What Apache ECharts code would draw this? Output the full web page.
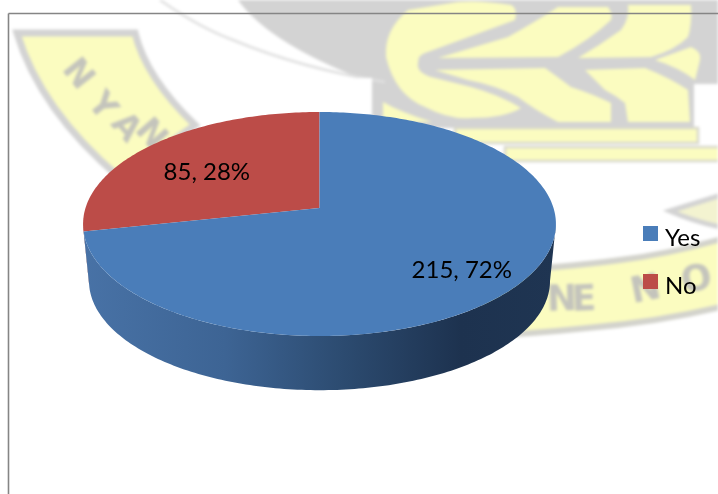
<!DOCTYPE html>
<html>
<head>
<meta charset="utf-8">
<title>Responses</title>
<style>
  html, body { margin: 0; padding: 0; background: #fff; overflow: hidden; }
  #crest, #chart { position: absolute; left: 0; top: 0; width: 718px; height: 494px; }
  #crest { filter: blur(1.8px); }
</style>
<script src="https://cdn.jsdelivr.net/npm/echarts@6/dist/echarts.min.js"></script>
</head>
<body>
<div id="crest"></div>
<div id="chart"></div>
<script>
// Survey responses
const categories = ['Yes', 'No'];
const responses = [215, 85];
const sliceColors = ['#4a7db9', '#bc4c48'];

const total = responses.reduce((a, b) => a + b, 0);

// Perspective of the tilted disc: a unit circle is projected on screen with the
// near edge enlarged, so the hub sits above the centre of the visible ellipse.
const DISC = { cx: 319.5, R: 234, c: -1 / 7, a: 80, b: 208, midY: 224 };
const RIM = { scale: 0.975, midY: 281 };

function project(theta, r) {
  const x = r * Math.sin(theta);
  const y = -r * Math.cos(theta);
  const w = 1 + DISC.c * y;
  return [DISC.cx + DISC.R * x / w, (DISC.a * y + DISC.b) / w];
}
function lower(p) {
  return [DISC.cx + (p[0] - DISC.cx) * RIM.scale, RIM.midY + (p[1] - DISC.midY) * RIM.scale];
}
function arcPoints(from, to) {
  const pts = [];
  const n = Math.max(8, Math.ceil((to - from) * 60));
  for (let i = 0; i <= n; i++) pts.push(project(from + (to - from) * i / n, 1));
  return pts;
}

// The wall is only seen between the widest points of the disc, on its near side.
function widestAngles() {
  let right = 0, left = 0, maxX = -Infinity, minX = Infinity;
  for (let i = 0; i < 1440; i++) {
    const t = i / 1440 * 2 * Math.PI;
    const x = project(t, 1)[0];
    if (x > maxX) { maxX = x; right = t; }
    if (x < minX) { minX = x; left = t; }
  }
  return { right, left };
}
const widest = widestAngles();

const wallFill = [
  new echarts.graphic.LinearGradient(0, 0, 1, 0, [
    { offset: 0, color: '#4872a6' },
    { offset: 0.3, color: '#3d6494' },
    { offset: 0.55, color: '#2c4b70' },
    { offset: 0.8, color: '#1d324f' },
    { offset: 1, color: '#1f3552' }
  ]),
  '#7a2f2d'
];
const labelPlacement = [{ reach: 0.75, dx: -4, dy: 7 }, { reach: 0.65, dx: -1, dy: 7 }];

function renderSlice(index) {
  return function (params, api) {
    const value = api.value(0);
    const before = responses.slice(0, index).reduce((a, b) => a + b, 0);
    const from = before / total * 2 * Math.PI;
    const to = (before + value) / total * 2 * Math.PI;
    const rim = arcPoints(from, to);
    const mid = (from + to) / 2;
    const place = labelPlacement[index];
    const anchor = project(mid, place.reach);
    const children = [];
    const wallFrom = Math.max(from, widest.right);
    const wallTo = Math.min(to, widest.left);
    if (wallTo > wallFrom) {
      const edge = arcPoints(wallFrom, wallTo);
      children.push({
        type: 'polygon',
        shape: { points: edge.concat(edge.map(lower).reverse()) },
        style: { fill: wallFill[index] }
      });
    }
    children.push({
      type: 'polygon',
      shape: { points: [project(0, 0)].concat(rim) },
      style: { fill: sliceColors[index] }
    });
    children.push({
      type: 'text',
      style: {
        text: value + ', ' + Math.round(value / total * 100) + '%',
        x: anchor[0] + place.dx,
        y: anchor[1] + place.dy,
        align: 'center',
        verticalAlign: 'middle',
        font: '24px Lato',
        fill: '#000'
      }
    });
    return { type: 'group', children };
  };
}

// Slices are painted back to front so the large slice covers the hidden wall.
const order = categories.map((_, i) => i).reverse();
const series = order.map(i => ({
  type: 'custom',
  name: categories[i],
  coordinateSystem: 'none',
  silent: true,
  animation: false,
  itemStyle: { color: sliceColors[i] },
  renderItem: renderSlice(i),
  data: [[responses[i]]]
}));

const chart = echarts.init(document.getElementById('chart'), null, { renderer: 'canvas' });
chart.setOption({
  backgroundColor: 'transparent',
  animation: false,
  color: sliceColors,
  legend: {
    data: categories.map(name => ({
      name,
      // the empty sub-path keeps the square in the upper part of the symbol box,
      // which leaves the name sitting slightly lower than its swatch
      icon: 'path://M0,0H15V15H0Z M0,24H0.01V24Z',
      itemStyle: { color: sliceColors[categories.indexOf(name)] }
    })),
    orient: 'vertical',
    left: 643,
    top: 226,
    padding: 0,
    itemWidth: 15,
    itemHeight: 24,
    itemGap: 24,
    selectedMode: false,
    textStyle: { fontFamily: 'Lato', fontSize: 24, color: '#000', padding: [0, 0, 0, 2], lineHeight: 24 }
  },
  graphic: [
    { type: 'line', silent: true, shape: { x1: 8.5, y1: 13.5, x2: 718, y2: 13.5 }, style: { stroke: '#858585', lineWidth: 1.6 } },
    { type: 'line', silent: true, shape: { x1: 8.5, y1: 13.5, x2: 8.5, y2: 494 }, style: { stroke: '#858585', lineWidth: 1.6 } }
  ],
  series
});

// Faint institutional crest printed behind the chart
const GREY = '#d3d3d3';
const CREAM = '#fbfcc0';
let shapeCount = 0;
function outline(d, style) {
  const name = 'crestShape' + (shapeCount++);
  echarts.graphic.registerShape(name, echarts.graphic.extendPath(d, {}));
  return { type: name, silent: true, style };
}
const leaf = d => outline(d, { fill: CREAM });
const stamp = (text, x, y, rotation, size) => ({
  type: 'text', x, y, rotation, silent: true,
  style: {
    text, fontSize: size, fontWeight: 'bold', fontFamily: 'DejaVu Sans',
    fill: '#c4c4bc', align: 'center', verticalAlign: 'middle'
  }
});
const crest = echarts.init(document.getElementById('crest'), null, { renderer: 'canvas' });
crest.setOption({
  backgroundColor: '#fff',
  animation: false,
  graphic: [
    outline('M238,0 Q270,45 375,84 L718,84 L718,0 Z', { fill: GREY }),
    outline('M372,0 L718,0 L718,76 L694,76 L694,128 L372,128 Z', { fill: GREY }),
    outline('M160,0 Q200,28 233,40 Q300,68 385,82', { fill: 'none', stroke: '#e0e0e0', lineWidth: 2.5 }),
    outline('M358,78 L372,78 L372,128 L358,128 Z', { fill: '#fff' }),
    leaf('M408,10 Q384,30 386,57 Q395,95 425,107 Q450,120 471,118 Q505,118 521,108 Q500,95 471,87 L431,77 Q416,72 418,63 Q418,55 425,53 L515,20 Q518,8 511,5 Q480,0 458,2 Z'),
    leaf('M438,58 L508,37 Q535,22 558,7 L608,7 Q613,14 611,20 Q590,40 558,57 Z'),
    leaf('M628,5 L691,5 Q692,25 688,37 Q675,50 651,57 L578,58 Q600,45 621,30 Q630,18 628,5 Z'),
    leaf('M655,60 L691,47 Q702,52 700,60 L695,80 Q680,68 655,60 Z'),
    leaf('M435,70 L545,68 Q555,75 571,87 Q595,95 611,103 L611,122 L558,122 Q535,110 518,97 Q495,85 468,80 Z'),
    leaf('M585,70 L645,68 Q670,78 688,90 L690,122 L628,122 L625,103 Q615,95 605,90 Z'),
    leaf('M383,102 Q400,112 432,122 L383,122 Z'),
    { type: 'rect', silent: true, shape: { x: 455, y: 128, width: 243, height: 15 }, style: { fill: CREAM, stroke: '#d8d8cc', lineWidth: 2.5 } },
    { type: 'rect', silent: true, shape: { x: 505, y: 147, width: 220, height: 14 }, style: { fill: CREAM, stroke: '#d8d8cc', lineWidth: 2.5 } },
    outline('M17,33 L135,33 Q146,78 195,125 L120,178 Q40,110 17,33 Z', { fill: CREAM, stroke: GREY, lineWidth: 7 }),
    stamp('N', 77, 75, -0.9, 34),
    stamp('Y', 101, 107, -0.9, 34),
    stamp('A', 125, 128, -0.85, 34),
    stamp('N', 150, 135, -0.85, 34),
    outline('M480,272 Q560,268 620,260 Q670,254 725,238 L725,306 Q660,322 587,328 Q530,334 480,336 Z', { fill: CREAM, stroke: '#d3d3cc', lineWidth: 6 }),
    stamp('N', 562, 301, 0.03, 36),
    stamp('E', 584, 301, 0.03, 36),
    stamp('N', 646, 291, 0.2, 36),
    stamp('O', 697, 281, 0.2, 36),
    outline('M670,211 L725,194 L725,228 Q695,222 670,211 Z', { fill: '#f3f3d0', stroke: GREY, lineWidth: 5 })
  ]
});
</script>
</body>
</html>
